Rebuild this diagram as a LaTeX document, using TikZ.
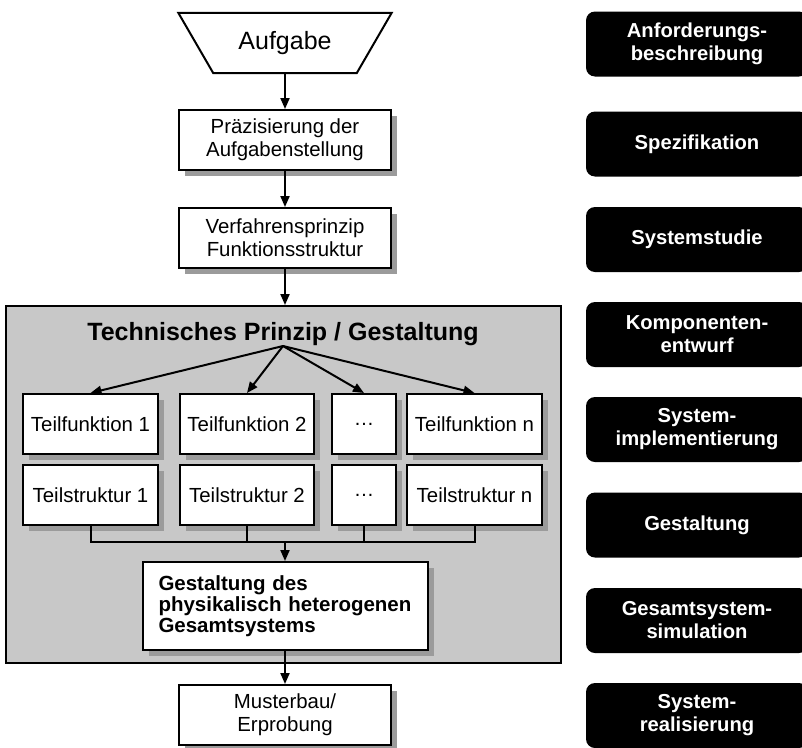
\documentclass[tikz,border=0pt]{standalone}
\usepackage{fontspec}
\setmainfont{Liberation Sans}
\usetikzlibrary{arrows.meta,shadows}

\definecolor{panelgray}{RGB}{200,200,200}
\definecolor{shadegray}{RGB}{155,155,155}

\tikzset{
  flowbox/.style={draw, line width=2pt, fill=white, inner sep=0pt, align=center,
    font=\fontsize{20.4}{23}\selectfont,
    general shadow={fill=shadegray, shadow xshift=6pt, shadow yshift=-6pt}},
  connector/.style={line width=2pt},
  flowarrow/.style={line width=2pt, -{Triangle[length=11pt,width=9pt]}},
  phasebox/.style={fill=black, text=white, rounded corners=9pt, inner sep=0pt,
    minimum width=222pt, minimum height=65pt, align=center,
    font=\bfseries\fontsize{20.2}{23}\selectfont},
}

\begin{document}
\begin{tikzpicture}[x=1pt,y=-1pt]
  \clip (0,0) rectangle (802,747);

  % task trapezoid
  \node[minimum width=143pt, minimum height=60pt, inner sep=0pt,
        font=\fontsize{25}{30}\selectfont] (aufgabe) at (285,43) {Aufgabe};
  \draw[line width=2pt, line join=miter]
    ([xshift=-35pt]aufgabe.north west) -- ([xshift=35pt]aufgabe.north east)
    -- (aufgabe.south east) -- (aufgabe.south west) -- cycle;

  % upper steps
  \node[flowbox, minimum width=212pt, minimum height=60pt] (praez) at (285,140)
    {Präzisierung der\\Aufgabenstellung};
  \node[flowbox, minimum width=212pt, minimum height=60pt] (verf) at (285,238)
    {Verfahrensprinzip\\Funktionsstruktur};

  % technical principle panel
  \node[draw, line width=2pt, fill=panelgray, inner sep=0pt,
        minimum width=555pt, minimum height=357pt] (panel) at (283.5,484.5) {};
  \node[font=\bfseries\fontsize{25}{30}\selectfont, inner sep=0.5pt, anchor=base]
    (title) at (283,340) {Technisches Prinzip / Gestaltung};

  % sub-functions
  \node[flowbox, minimum width=135pt, minimum height=60pt] (tf1) at (90.5,424) {Teilfunktion 1};
  \node[flowbox, minimum width=134pt, minimum height=60pt] (tf2) at (247,424) {Teilfunktion 2};
  \node[flowbox, minimum width=64pt,  minimum height=60pt] (tfd) at (364,424) {\dots};
  \node[flowbox, minimum width=135pt, minimum height=60pt] (tfn) at (474.5,424) {Teilfunktion n};

  % sub-structures
  \node[flowbox, minimum width=135pt, minimum height=60pt] (ts1) at (90.5,495) {Teilstruktur 1};
  \node[flowbox, minimum width=134pt, minimum height=60pt] (ts2) at (247,495) {Teilstruktur 2};
  \node[flowbox, minimum width=64pt,  minimum height=60pt] (tsd) at (364,495) {\dots};
  \node[flowbox, minimum width=135pt, minimum height=60pt] (tsn) at (474.5,495) {Teilstruktur n};

  % overall system design
  \node[flowbox, align=left, text width=253pt, inner xsep=16pt, minimum height=88pt,
        font=\bfseries\fontsize{20.5}{21}\selectfont] (gest) at (285,606)
    {Gestaltung des\\physikalisch heterogenen\\Gesamtsystems};

  % prototype
  \node[flowbox, minimum width=212pt, minimum height=60pt] (muster) at (285,715)
    {Musterbau/\\Erprobung};

  % main flow
  \draw[flowarrow] (aufgabe.south) -- (praez.north);
  \draw[flowarrow] (praez.south) -- (verf.north);
  \draw[flowarrow] (verf.south) -- (verf.south |- panel.north);
  \draw[flowarrow] (gest.south) -- (muster.north);

  % fan-out to the sub-functions
  \draw[flowarrow] (title.south) -- (tf1.north);
  \draw[flowarrow] (title.south) -- (tf2.north);
  \draw[flowarrow] (title.south) -- (tfd.north);
  \draw[flowarrow] (title.south) -- (tfn.north);

  % merge of the sub-structures
  \coordinate (merge) at (285,542);
  \draw[connector] (ts1.south) -- (ts1.south |- merge) -- (tsn.south |- merge) -- (tsn.south);
  \draw[connector] (ts2.south) -- (ts2.south |- merge);
  \draw[connector] (tsd.south) -- (tsd.south |- merge);
  \draw[flowarrow] (merge) -- (gest.north);

  % development phases
  \node[phasebox] (ph1) at (697,44)    {Anforderungs-\\beschreibung};
  \node[phasebox] (ph2) at (697,144)   {Spezifikation};
  \node[phasebox] (ph3) at (697,239.5) {Systemstudie};
  \node[phasebox] (ph4) at (697,334.5) {Komponenten-\\entwurf};
  \node[phasebox] (ph5) at (697,429.5) {System-\\implementierung};
  \node[phasebox] (ph6) at (697,525)   {Gestaltung};
  \node[phasebox] (ph7) at (697,620.5) {Gesamtsystem-\\simulation};
  \node[phasebox] (ph8) at (697,715.5) {System-\\realisierung};
\end{tikzpicture}
\end{document}
